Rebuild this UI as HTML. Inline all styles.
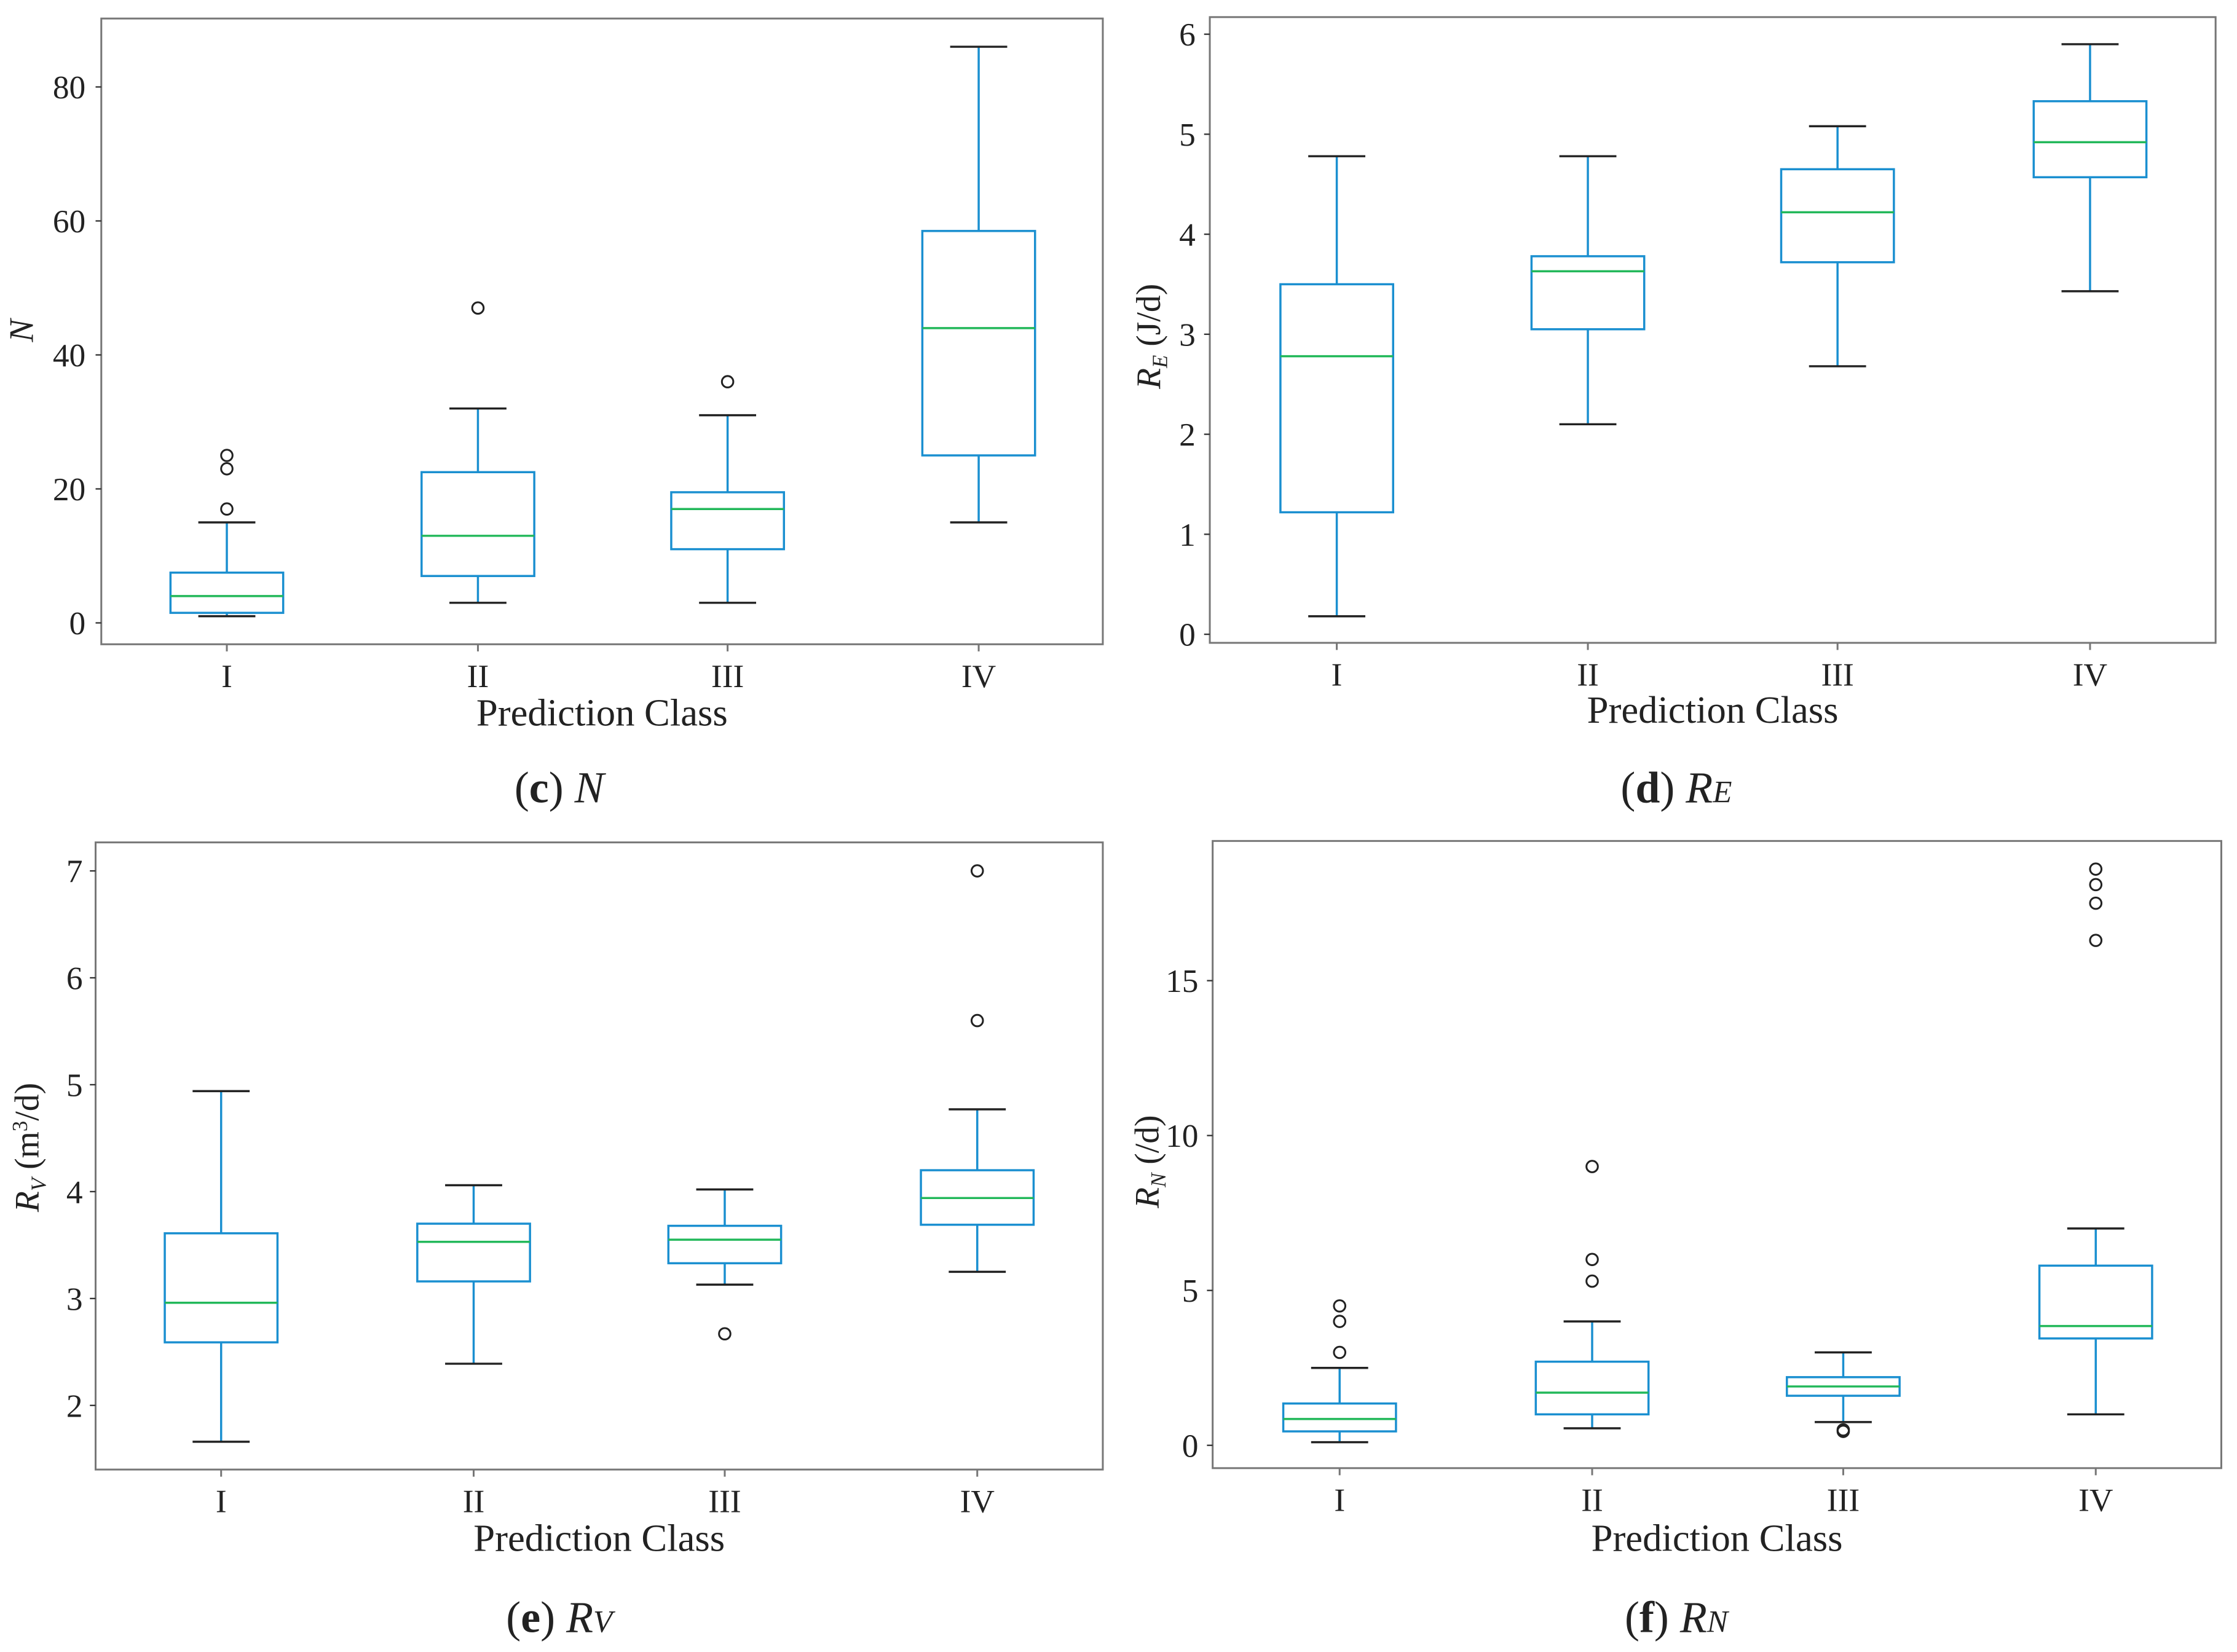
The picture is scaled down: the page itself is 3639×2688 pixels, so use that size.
<!DOCTYPE html>
<html><head><meta charset="utf-8"><style>
html,body{margin:0;padding:0;background:#fff;}
svg{display:block;}
text{font-family:"Liberation Serif",serif;fill:#222;}
</style></head><body>
<svg id="fig" width="3639" height="2688" viewBox="0 0 1568 1159" preserveAspectRatio="none" xmlns="http://www.w3.org/2000/svg"></svg>
<script>
const categories = ["I","II","III","IV"];
// panel c: [whislo, q1, med, q3, whishi]
const statsC = [[1,1.5,4,7.5,15],[3,7,13,22.5,32],[3,11,17,19.5,31],[15,25,44,58.5,86]];
const outliersC = [[17,23,25],[47],[36],[]];
const ticksC = [0,20,40,60,80];
const statsD = [[0.18,1.22,2.78,3.5,4.78],[2.1,3.05,3.63,3.78,4.78],[2.68,3.72,4.22,4.65,5.08],[3.43,4.57,4.92,5.33,5.9]];
const outliersD = [[],[],[],[]];
const ticksD = [0,1,2,3,4,5,6];
const statsE = [[1.66,2.59,2.96,3.61,4.94],[2.39,3.16,3.53,3.7,4.06],[3.13,3.33,3.55,3.68,4.02],[3.25,3.69,3.94,4.2,4.77]];
const outliersE = [[],[],[2.67],[5.6,7.0]];
const ticksE = [2,3,4,5,6,7];
const statsF = [[0.1,0.45,0.85,1.35,2.5],[0.55,1.0,1.7,2.7,4.0],[0.75,1.6,1.9,2.2,3.0],[1.0,3.45,3.85,5.8,7.0]];
const outliersF = [[3.0,4.0,4.5],[5.3,6.0,9.0],[0.45,0.5],[16.3,17.5,18.1,18.6]];
const ticksF = [0,5,10,15];

const NS="http://www.w3.org/2000/svg";
const svg=document.getElementById('fig');
function mk(tag,attrs,parent){const e=document.createElementNS(NS,tag);for(const k in attrs)e.setAttribute(k,attrs[k]);(parent||svg).appendChild(e);return e;}

function panel(id,frame,yref,xs,stats,outs,ticks,ylabelHTML,ylabelPos,xlabelY,caption,capX,capY,tickLabelX){
  const g=mk('g',{});
  
  
  const [x0,y0,x1,y1]=frame;
  const yScale=v=>yref[0]+(v-yref[1])*(yref[2]-yref[0])/(yref[3]-yref[1]);
  const fr=mk('rect',{x:x0,y:y0,width:x1-x0,height:y1-y0,fill:'none',stroke:'#777','stroke-width':1.3},g);
  
  
  ticks.forEach(t=>{
    const y=yScale(t);
    mk('line',{x1:x0-4,x2:x0,y1:y,y2:y,stroke:'#333','stroke-width':1},g);
    const tl=mk('text',{x:tickLabelX,y:y+8,'text-anchor':'end','font-size':23},g);
    tl.textContent=t;
    
    
  });
  const bw=79;
  categories.forEach((c,i)=>{
    const x=xs[i],s=stats[i];
    mk('line',{x1:x,x2:x,y1:y1,y2:y1+5,stroke:'#777','stroke-width':1.3},g);
    const xl=mk('text',{x:x,y:y1+30,'text-anchor':'middle','font-size':23},g);
    xl.textContent=c;
    
    
    const bg=mk('g',{},g);
    
    
    mk('line',{x1:x,x2:x,y1:yScale(s[0]),y2:yScale(s[1]),stroke:'#1a8fd0','stroke-width':1.5},bg);
    mk('line',{x1:x,x2:x,y1:yScale(s[3]),y2:yScale(s[4]),stroke:'#1a8fd0','stroke-width':1.5},bg);
    mk('line',{x1:x-20,x2:x+20,y1:yScale(s[0]),y2:yScale(s[0]),stroke:'#222','stroke-width':1.5},bg);
    mk('line',{x1:x-20,x2:x+20,y1:yScale(s[4]),y2:yScale(s[4]),stroke:'#222','stroke-width':1.5},bg);
    mk('rect',{x:x-bw/2,y:yScale(s[3]),width:bw,height:yScale(s[1])-yScale(s[3]),fill:'none',stroke:'#1a8fd0','stroke-width':1.5},bg);
    mk('line',{x1:x-bw/2,x2:x+bw/2,y1:yScale(s[2]),y2:yScale(s[2]),stroke:'#22b85a','stroke-width':1.5},bg);
    outs[i].forEach(o=>{
      const ci=mk('circle',{cx:x,cy:yScale(o),r:4,fill:'none',stroke:'#222','stroke-width':1.3},bg);
      
      
    });
  });
  const xt=mk('text',{x:(x0+x1)/2,y:xlabelY,'text-anchor':'middle','font-size':27},g);
  xt.textContent='Prediction Class';
  
  
  const yt=mk('text',{x:0,y:0,'text-anchor':'middle','font-size':24,transform:`translate(${ylabelPos[0]},${ylabelPos[1]}) rotate(-90)`},g);
  yt.innerHTML=ylabelHTML;
  
  
  const cp=mk('text',{x:capX,y:capY,'text-anchor':'middle','font-size':31},g);
  cp.innerHTML=caption;
  
  
}
panel('c',[71,13,773,452],[437,0,61,80],[159,335,510,686],statsC,outliersC,ticksC,
  '<tspan font-style="italic">N</tspan>',[23,232],509,
  '(<tspan font-weight="bold">c</tspan>) <tspan font-style="italic">N</tspan>',392,563,60);
panel('d',[848,12,1553,451],[445,0,24,6],[937,1113,1288,1465],statsD,outliersD,ticksD,
  '<tspan font-style="italic">R</tspan><tspan font-style="italic" font-size="15" dy="5">E</tspan><tspan dy="-5"> (J/d)</tspan>',[813,236],507,
  '(<tspan font-weight="bold">d</tspan>) <tspan font-style="italic">R</tspan><tspan font-style="italic" font-size="22">E</tspan>',1175,563,838);
panel('e',[67,591,773,1031],[986,2,611,7],[155,332,508,685],statsE,outliersE,ticksE,
  '<tspan font-style="italic">R</tspan><tspan font-style="italic" font-size="15" dy="5">V</tspan><tspan dy="-5"> (m</tspan><tspan font-size="15" dy="-8">3</tspan><tspan dy="8">/d)</tspan>',[27,805],1088,
  '(<tspan font-weight="bold">e</tspan>) <tspan font-style="italic">R</tspan><tspan font-style="italic" font-size="22">V</tspan>',392,1145,58);
panel('f',[850,590,1557,1030],[1014,0,688,15],[939,1116,1292,1469],statsF,outliersF,ticksF,
  '<tspan font-style="italic">R</tspan><tspan font-style="italic" font-size="15" dy="5">N</tspan><tspan dy="-5"> (/d)</tspan>',[812,815],1088,
  '(<tspan font-weight="bold">f</tspan>) <tspan font-style="italic">R</tspan><tspan font-style="italic" font-size="22">N</tspan>',1175,1145,840);
</script>
</body></html>
